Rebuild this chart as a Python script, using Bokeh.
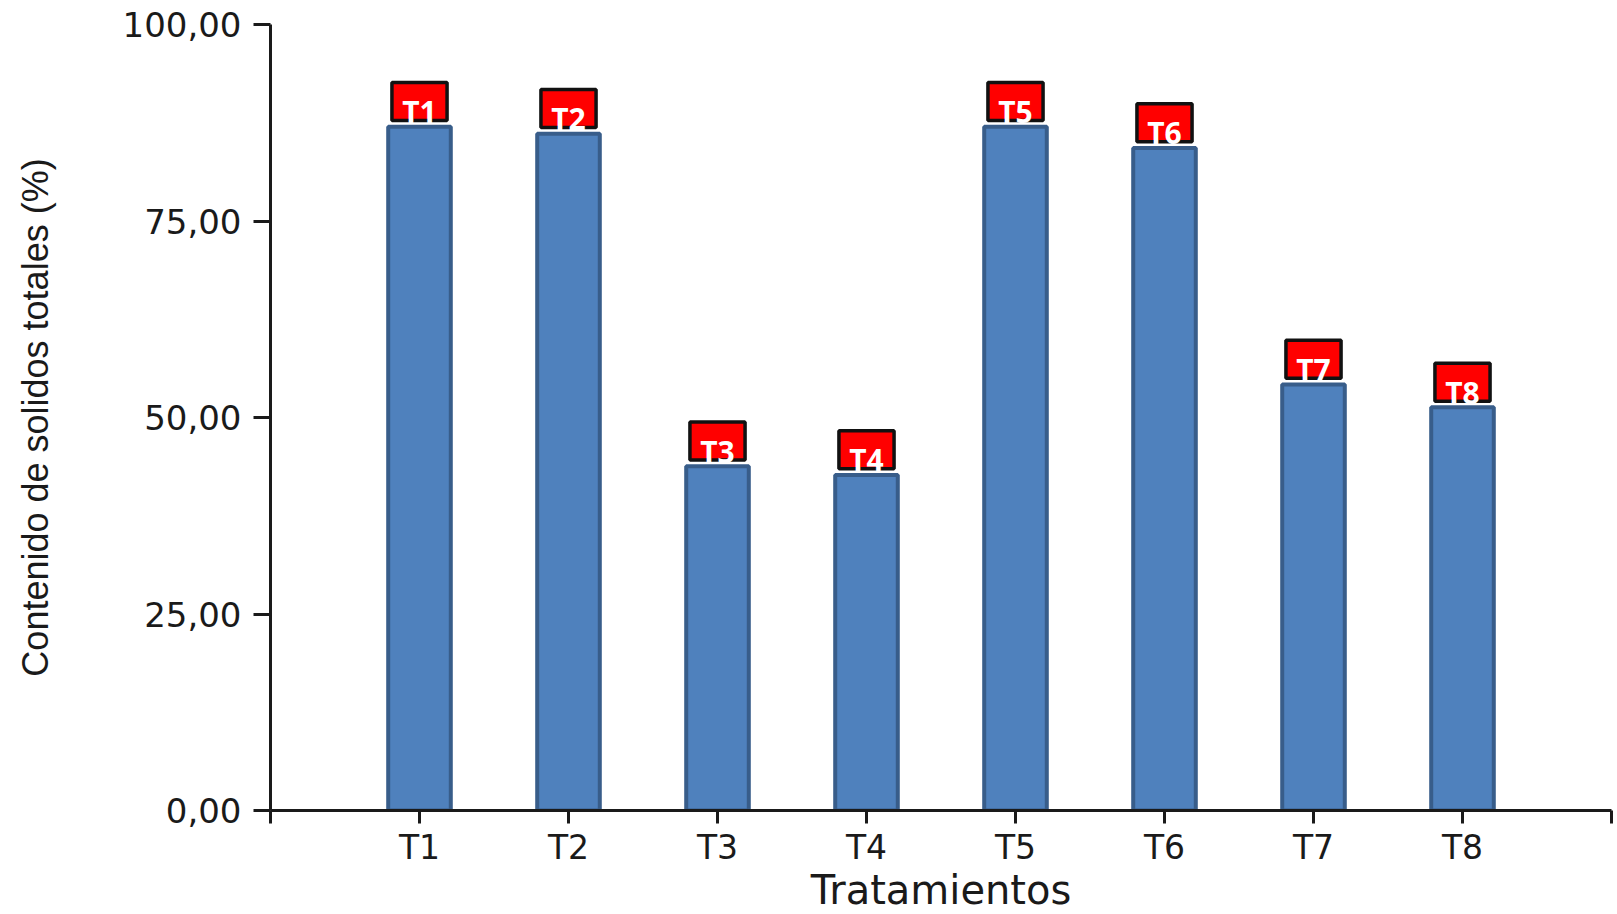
from bokeh.plotting import figure
from bokeh.models import FixedTicker, Range1d, ColumnDataSource
from bokeh.embed import file_html
from bokeh.resources import INLINE
from bokeh.core.properties import value

# Total solids content per treatment (%)
treatments = ["T1", "T2", "T3", "T4", "T5", "T6", "T7", "T8"]
solids = [87.0, 86.1, 43.8, 42.7, 87.0, 84.3, 54.2, 51.3]

y_ticks = [0, 25, 50, 75, 100]
y_tick_labels = ["0,00", "25,00", "50,00", "75,00", "100,00"]

positions = list(range(1, len(treatments) + 1))
tag_gap = 3.2  # tag centre above bar top, in axis units

source = ColumnDataSource(dict(
    x=positions,
    top=solids,
    name=treatments,
    tag_y=[v + tag_gap for v in solids],
))

p = figure(
    frame_width=1341, frame_height=786,
    x_range=Range1d(0, 9), y_range=Range1d(0, 100),
    output_backend="svg", toolbar_location=None,
    min_border_left=270, min_border_top=24, min_border_right=6, min_border_bottom=0,
    background_fill_color="white", border_fill_color="white",
    outline_line_color=None,
)
p.grid.visible = False

# Bars
p.vbar(x="x", top="top", bottom=0, width=0.42, source=source,
       fill_color="#4f81bd", line_color="#385d8a", line_width=4)

# Red name tags above each bar
p.rect(x="x", y="tag_y", width=0.37, height=38, height_units="screen", source=source,
       fill_color="#ff0000", line_color="#111111", line_width=3.5)
p.text(x="x", y="tag_y", text="name", source=source,
       text_font=value("Open Sans"), text_font_style="bold", text_font_size="30px",
       text_color="white", text_align="center", text_baseline="alphabetic",
       y_offset=10)

# X axis
p.xaxis.ticker = FixedTicker(ticks=[0] + positions + [9])
p.xaxis.major_label_overrides = {0: "", 9: "", **{pos: t for pos, t in zip(positions, treatments)}}
p.xaxis.axis_label = "Tratamientos"
p.xaxis.axis_label_text_font = "DejaVu Sans"
p.xaxis.axis_label_text_font_style = "normal"
p.xaxis.axis_label_text_font_size = "40px"
p.xaxis.axis_label_text_color = "#1a1a1a"
p.xaxis.axis_label_standoff = -3
p.xaxis.major_label_text_font = "DejaVu Sans"
p.xaxis.major_label_text_font_size = "33px"
p.xaxis.major_label_text_color = "#1a1a1a"
p.xaxis.major_label_standoff = 4
p.xaxis.major_tick_out = 13
p.xaxis.major_tick_in = 0
p.xaxis.minor_tick_line_color = None

# Y axis
p.yaxis.ticker = FixedTicker(ticks=y_ticks)
p.yaxis.major_label_overrides = {t: s for t, s in zip(y_ticks, y_tick_labels)}
p.yaxis.axis_label = "Contenido de solidos totales (%)"
p.yaxis.axis_label_text_font = "Liberation Sans"
p.yaxis.axis_label_text_font_style = "normal"
p.yaxis.axis_label_text_font_size = "36px"
p.yaxis.axis_label_text_color = "#1a1a1a"
p.yaxis.axis_label_standoff = 64
p.yaxis.major_label_text_font = "DejaVu Sans"
p.yaxis.major_label_text_font_size = "34px"
p.yaxis.major_label_text_color = "#1a1a1a"
p.yaxis.major_label_standoff = 12
p.yaxis.major_tick_out = 17
p.yaxis.major_tick_in = 0
p.yaxis.minor_tick_line_color = None

for ax in (p.xaxis, p.yaxis):
    ax.axis_line_color = "#1a1a1a"
    ax.axis_line_width = 3
    ax.major_tick_line_color = "#1a1a1a"
    ax.major_tick_line_width = 3

open("out.html", "w").write(file_html(p, INLINE))
